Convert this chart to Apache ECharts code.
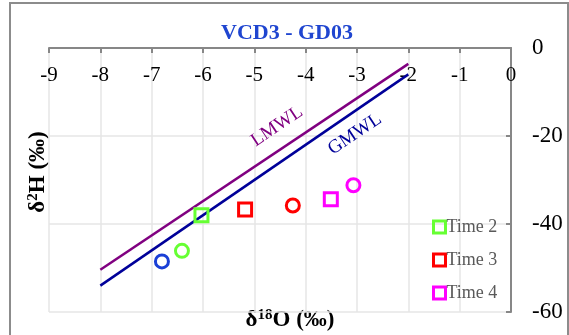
<!DOCTYPE html>
<html>
<head>
<meta charset="utf-8">
<script src="https://cdn.jsdelivr.net/npm/echarts@6/dist/echarts.min.js"></script>
<style>
  html, body { margin: 0; padding: 0; background: #fff; }
  #chart { width: 569px; height: 335px; }
</style>
</head>
<body>
<div id="chart"></div>
<script>
// sample groups (circles and squares per sampling time)
var timeNames = ['Time 1', 'Time 2', 'Time 3', 'Time 4'];
var timeColors = ['#1a3fd6', '#66ff33', '#ff0000', '#ff00ff'];
var circleX = [-6.80, -6.41, -4.25, -3.07];
var circleY = [-48.5, -46.1, -35.8, -31.2];
var squareX = [null, -6.03, -5.18, -3.51];
var squareY = [null, -38.0, -36.7, -34.4];

// meteoric water lines
var lineX = [-8, -2];
var lmwlY = [-50.4, -3.6];
var gmwlY = [-54, -6];

var legendNames = ['Time 2', 'Time 3', 'Time 4'];
var FONT = 'Liberation Serif';

function onLine(x, ys) {
    var t = (x - lineX[0]) / (lineX[1] - lineX[0]);
    return ys[0] + t * (ys[1] - ys[0]);
}

var chart = echarts.init(document.getElementById('chart'));

var series = [
    {
        name: 'LMWL',
        type: 'line',
        data: [[lineX[0], lmwlY[0]], [lineX[1], lmwlY[1]]],
        showSymbol: false,
        lineStyle: { color: '#800080', width: 2.5 },
        markPoint: {
            symbol: 'circle',
            symbolSize: 0,
            data: [{ coord: [-4.33, onLine(-4.33, lmwlY)] }],
            label: {
                show: true, formatter: 'LMWL', color: '#800080',
                fontFamily: FONT, fontSize: 19, rotate: 34,
                position: 'inside', offset: [0, -21]
            }
        }
    },
    {
        name: 'GMWL',
        type: 'line',
        data: [[lineX[0], gmwlY[0]], [lineX[1], gmwlY[1]]],
        showSymbol: false,
        lineStyle: { color: '#000099', width: 2.5 },
        markPoint: {
            symbol: 'circle',
            symbolSize: 0,
            data: [{ coord: [-3.25, onLine(-3.25, gmwlY)] }],
            label: {
                show: true, formatter: 'GMWL', color: '#000099',
                fontFamily: FONT, fontSize: 19, rotate: 34,
                position: 'inside', offset: [0, 19]
            }
        }
    }
];

for (var i = 0; i < timeNames.length; i++) {
    var pts = [{ value: [circleX[i], circleY[i]], symbol: 'circle' }];
    if (squareX[i] !== null) {
        pts.push({ value: [squareX[i], squareY[i]], symbol: 'rect', symbolSize: 13 });
    }
    series.push({
        name: timeNames[i],
        type: 'scatter',
        symbol: 'rect',
        symbolSize: 13,
        data: pts,
        itemStyle: { color: 'rgba(0,0,0,0)', borderColor: timeColors[i], borderWidth: 3, opacity: 1 },
        z: 5
    });
}

var option = {
    animation: false,
    backgroundColor: '#fff',
    title: {
        text: 'VCD3 - GD03',
        left: 282,
        textAlign: 'center',
        top: 17,
        textStyle: { fontFamily: FONT, fontSize: 22, fontWeight: 'bold', color: '#1f45d0' }
    },
    grid: { left: 49, right: 58, top: 48, bottom: 23 },
    legend: {
        data: legendNames,
        orient: 'vertical',
        left: 432,
        top: 218,
        padding: 0,
        itemWidth: 12,
        itemHeight: 12,
        itemGap: 15,
        itemStyle: { borderWidth: 3 },
        textStyle: { fontFamily: FONT, fontSize: 18, color: '#595959', padding: [0, 0, 0, -4] }
    },
    xAxis: {
        type: 'value',
        position: 'top',
        min: -9, max: 0, interval: 1,
        axisLine: { show: true, onZero: false, lineStyle: { color: '#878787', width: 2 } },
        axisTick: { show: true, inside: true, length: 5, lineStyle: { color: '#878787', width: 2 } },
        axisLabel: { inside: true, margin: 17, fontFamily: FONT, fontSize: 21, color: '#000' },
        splitLine: { show: true, lineStyle: { color: '#e6e6e6', width: 1.5 } }
    },
    yAxis: {
        type: 'value',
        position: 'right',
        min: -60, max: 0, interval: 20,
        axisLine: { show: true, onZero: false, lineStyle: { color: '#878787', width: 2 } },
        axisTick: { show: true, inside: true, length: 5, lineStyle: { color: '#878787', width: 2 } },
        axisLabel: { margin: 21, fontFamily: FONT, fontSize: 23, color: '#000' },
        splitLine: { show: true, lineStyle: { color: '#e6e6e6', width: 1.5 } }
    },
    graphic: [
        {
            type: 'rect',
            shape: { x: 10, y: 3, width: 558, height: 345 },
            style: { fill: 'none', stroke: '#8c8c8c', lineWidth: 2 },
            silent: true
        },
        {
            type: 'text',
            x: 290, y: 320,
            style: {
                text: '{b|δ}{s|18}{b|O (‰)}',
                align: 'center', verticalAlign: 'middle',
                rich: {
                    b: { fontFamily: FONT, fontSize: 23, fontWeight: 'bold', fill: '#000' },
                    s: { fontFamily: FONT, fontSize: 15, fontWeight: 'bold', fill: '#000', padding: [0, 0, 9, 0] }
                }
            }
        },
        {
            type: 'text',
            x: 38, y: 172,
            rotation: Math.PI / 2,
            style: {
                text: '{b|δ}{s|2}{b|H (‰)}',
                align: 'center', verticalAlign: 'middle',
                rich: {
                    b: { fontFamily: FONT, fontSize: 23, fontWeight: 'bold', fill: '#000' },
                    s: { fontFamily: FONT, fontSize: 15, fontWeight: 'bold', fill: '#000', padding: [0, 0, 9, 0] }
                }
            }
        }
    ],
    series: series
};

chart.setOption(option);
</script>
</body>
</html>
